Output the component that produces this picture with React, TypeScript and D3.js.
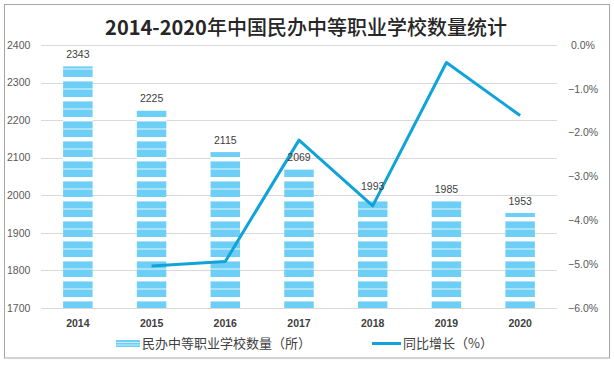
import React, { useEffect, useRef } from 'react';
import * as d3 from 'd3';

const years = ['2014', '2015', '2016', '2017', '2018', '2019', '2020'];
const schoolCounts = [2343, 2225, 2115, 2069, 1993, 1985, 1953];
const growthPct = [null, -5.04, -4.94, -2.17, -3.67, -0.4, -1.61];
const leftTicks = [1700, 1800, 1900, 2000, 2100, 2200, 2300, 2400];
const rightTicks = [0, -1, -2, -3, -4, -5, -6];

const W = 614;
const H = 365;

const App: React.FC = () => {
  const svgRef = useRef<SVGSVGElement | null>(null);

  useEffect(() => {
    if (!svgRef.current) return;
    const svg = d3.select(svgRef.current);
    svg.selectAll('*').remove();

    const left = 41;
    const right = 557;
    const top = 45;
    const bottom = 308;
    const numFont = '"Liberation Sans", Arial, sans-serif';
    const cjkFont = '"Noto Sans CJK SC", sans-serif';
    const barBlue = '#6dcff6';
    const barLight = '#a9e2f9';
    const lineBlue = '#10a3d9';

    const x = d3.scaleBand<string>()
      .domain(years)
      .range([left, right])
      .paddingInner(0.6)
      .paddingOuter(0.3);
    const y = d3.scaleLinear().domain([1700, 2400]).range([bottom, top]);
    const y2 = d3.scaleLinear().domain([-6, 0]).range([bottom, top]);

    // stripe pattern for the bars
    const defs = svg.append('defs');
    const pat = defs.append('pattern')
      .attr('id', 'stripes')
      .attr('patternUnits', 'userSpaceOnUse')
      .attr('x', 0).attr('y', 1)
      .attr('width', 20).attr('height', 20);
    pat.append('rect').attr('width', 20).attr('height', 20).attr('fill', '#fff');
    pat.append('rect').attr('width', 20).attr('height', 16).attr('fill', barBlue);
    pat.append('rect').attr('width', 20).attr('height', 1).attr('fill', barLight);
    pat.append('rect').attr('y', 7).attr('width', 20).attr('height', 2).attr('fill', barLight);

    // outer border
    svg.append('rect')
      .attr('x', 4.5).attr('y', 4.5)
      .attr('width', 605).attr('height', 353.5)
      .attr('fill', '#fff')
      .attr('stroke', '#a6a6a6');

    // title: bold digits, medium CJK
    const title = svg.append('text')
      .attr('x', 306).attr('y', 35)
      .attr('text-anchor', 'middle')
      .attr('font-family', cjkFont)
      .attr('font-size', 20)
      .attr('fill', '#262626');
    title.append('tspan').attr('font-weight', 'bold').text('2014-2020');
    title.append('tspan').attr('font-weight', 500).text('年中国民办中等职业学校数量统计');

    // gridlines
    svg.append('g').selectAll('line')
      .data(leftTicks)
      .enter()
      .append('line')
      .attr('x1', left).attr('x2', right)
      .attr('y1', d => Math.round(y(d)) + 0.5)
      .attr('y2', d => Math.round(y(d)) + 0.5)
      .attr('stroke', '#d9d9d9');

    // left axis labels
    svg.append('g').selectAll('text')
      .data(leftTicks)
      .enter()
      .append('text')
      .attr('x', 7)
      .attr('y', d => y(d))
      .attr('dy', '0.35em')
      .attr('font-family', numFont)
      .attr('font-size', 10.5)
      .attr('fill', '#595959')
      .text(d => d);

    // right axis labels
    svg.append('g').selectAll('text')
      .data(rightTicks)
      .enter()
      .append('text')
      .attr('x', d => (d === 0 ? 571 : 568))
      .attr('y', d => y2(d))
      .attr('dy', '0.35em')
      .attr('font-family', numFont)
      .attr('font-size', 10.5)
      .attr('fill', '#595959')
      .text(d => d3.format('.1f')(d) + '%');

    // bars
    svg.append('g').selectAll('rect')
      .data(schoolCounts)
      .enter()
      .append('rect')
      .attr('x', (d, i) => x(years[i]) || 0)
      .attr('y', d => y(d))
      .attr('width', x.bandwidth())
      .attr('height', d => bottom - y(d))
      .attr('fill', 'url(#stripes)');

    // line
    const pts = growthPct
      .map((v, i) => ({ year: years[i], v }))
      .filter(p => p.v !== null) as { year: string; v: number }[];
    const line = d3.line<{ year: string; v: number }>()
      .x(p => (x(p.year) || 0) + x.bandwidth() / 2)
      .y(p => y2(p.v));
    svg.append('path')
      .datum(pts)
      .attr('d', line)
      .attr('fill', 'none')
      .attr('stroke', lineBlue)
      .attr('stroke-width', 3)
      .attr('stroke-linejoin', 'round');

    // value labels
    svg.append('g').selectAll('text')
      .data(schoolCounts)
      .enter()
      .append('text')
      .attr('x', (d, i) => (x(years[i]) || 0) + x.bandwidth() / 2)
      .attr('y', d => y(d) - 12)
      .attr('dy', '0.35em')
      .attr('text-anchor', 'middle')
      .attr('font-family', numFont)
      .attr('font-size', 10.5)
      .attr('fill', '#404040')
      .text(d => d);

    // category labels
    svg.append('g').selectAll('text')
      .data(years)
      .enter()
      .append('text')
      .attr('x', d => (x(d) || 0) + x.bandwidth() / 2)
      .attr('y', 323)
      .attr('dy', '0.35em')
      .attr('text-anchor', 'middle')
      .attr('font-family', numFont)
      .attr('font-weight', 'bold')
      .attr('font-size', 10.5)
      .attr('fill', '#404040')
      .text(d => d);

    // legend
    const lg = svg.append('g');
    lg.append('rect').attr('x', 116).attr('y', 340).attr('width', 24).attr('height', 7).attr('fill', barBlue);
    lg.append('rect').attr('x', 116).attr('y', 342).attr('width', 24).attr('height', 1).attr('fill', '#c4ecfb');
    lg.append('rect').attr('x', 116).attr('y', 344.5).attr('width', 24).attr('height', 1).attr('fill', '#c4ecfb');
    lg.append('text')
      .attr('x', 142).attr('y', 343)
      .attr('dy', '0.35em')
      .attr('font-family', cjkFont)
      .attr('font-size', 13)
      .attr('fill', '#404040')
      .text('民办中等职业学校数量（所）');
    lg.append('line')
      .attr('x1', 372).attr('x2', 401)
      .attr('y1', 343.5).attr('y2', 343.5)
      .attr('stroke', lineBlue)
      .attr('stroke-width', 3);
    lg.append('text')
      .attr('x', 403).attr('y', 343)
      .attr('dy', '0.35em')
      .attr('font-family', cjkFont)
      .attr('font-size', 13)
      .attr('fill', '#404040')
      .text('同比增长（%）');
  }, []);

  return (
    <svg
      ref={svgRef}
      width={W}
      height={H}
      style={{ position: 'absolute', left: 0, top: 0, background: '#fff' }}
    />
  );
};

export default App;
